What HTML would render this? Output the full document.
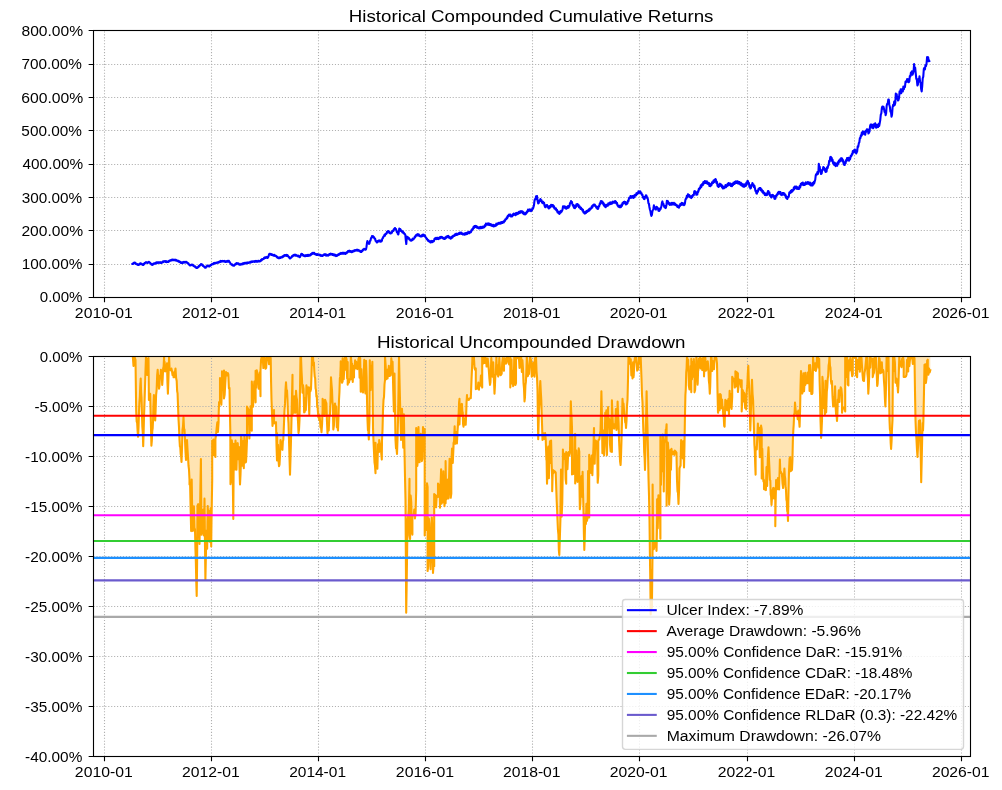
<!DOCTYPE html><html><head><meta charset="utf-8"><title>Drawdown</title><style>html,body{margin:0;padding:0;background:#fff;overflow:hidden}svg{display:block}text{font-family:"Liberation Sans",sans-serif;fill:#000;will-change:transform}</style></head><body><svg width="1002" height="790" viewBox="0 0 1002 790"><rect x="0" y="0" width="1002" height="790" fill="#fff"/><defs><clipPath id="c1"><rect x="92.95" y="30.35" width="877" height="266.65"/></clipPath><clipPath id="c2"><rect x="92.95" y="356.2" width="877" height="400"/></clipPath></defs><path d="M104.5 297.5V30.5M211.5 297.5V30.5M318.5 297.5V30.5M425.5 297.5V30.5M532.5 297.5V30.5M639.5 297.5V30.5M747.5 297.5V30.5M854.5 297.5V30.5M961.5 297.5V30.5M93.5 297.5H970.5M93.5 264.5H970.5M93.5 230.5H970.5M93.5 197.5H970.5M93.5 164.5H970.5M93.5 130.5H970.5M93.5 97.5H970.5M93.5 64.5H970.5M93.5 30.5H970.5" stroke="#b0b0b0" stroke-width="1.111" stroke-dasharray="1.111,1.833" fill="none"/><path d="M132.4,264 132.93,263.96 133.45,262.89 133.97,263.33 134.5,262.5 135,263.22 135.5,262.9 136,263.99 136.5,264 137,264.47 137.5,264.06 138,264.97 138.5,264.8 138.96,264.9 139.42,263.95 139.88,264.2 140.34,263.35 140.8,263.3 141.35,264.14 141.9,263.76 142.45,264.81 143,265 143.5,264.98 144,263.62 144.5,263.98 145,262.76 145.5,262.94 146,262.2 146.5,262.71 147,262.37 147.5,263 148,262.85 148.5,261.92 149,261.8 149.5,262.59 150,262.56 150.5,263.64 151,263.47 151.5,264.72 152,264.8 152.48,264.88 152.96,263.91 153.44,264.36 153.92,263.38 154.4,263.5 154.91,263.69 155.43,262.92 155.94,263.54 156.46,262.46 156.97,263.22 157.49,262.24 158,262.5 158.5,262.81 159,262.21 159.5,262.8 160,262.25 160.5,262.92 161,262.17 161.5,262.94 162,262.5 162.5,262.51 163,261.38 163.5,261.97 164,261.2 164.5,261.52 165,261.06 165.5,261.89 166,261.14 166.5,262.05 167,261.31 167.5,261.98 168,261.8 168.5,261.89 169,260.77 169.5,261.21 170,260.33 170.5,260.63 171,260 171.5,260.46 172,259.49 172.5,260.18 173,259.55 173.5,260.11 174,259.8 174.5,260.18 175,259.58 175.5,260.44 176,259.88 176.5,260.74 177,260.5 177.45,261.02 177.91,260.53 178.36,261.46 178.82,261.01 179.27,261.91 179.73,261.52 180.18,262.38 180.64,262.02 181.09,263.01 181.55,262.35 182,263 182.48,263.11 182.96,262.16 183.44,262.69 183.92,261.87 184.4,262 184.9,262.53 185.4,261.78 185.9,262.51 186.4,261.86 186.9,262.7 187.4,262.5 187.92,263.39 188.44,263.29 188.96,264.6 189.48,264.61 190,265.5 190.5,265.49 191,264.76 191.5,265.1 192,264.5 192.5,265.15 193,264.9 193.5,265.93 194,266 194.5,266.65 195,266.25 195.5,267.31 196,267 196.5,268.06 197,268 197.49,267.8 197.98,266.87 198.47,267.07 198.96,265.83 199.44,266.05 199.93,265.07 200.42,265.28 200.91,264.01 201.4,264 201.89,264.75 202.38,264.51 202.86,265.84 203.35,265.55 203.84,266.68 204.33,266.62 204.81,267.54 205.3,267.8 205.8,267.64 206.3,266.39 206.8,266.44 207.3,265.5 207.8,266.11 208.3,265.77 208.8,266.5 209.3,266.51 209.8,265.54 210.3,265.75 210.8,264.77 211.3,265.05 211.8,264.2 212.3,264.49 212.8,263.8 213.25,264.11 213.71,263.19 214.16,263.74 214.62,262.88 215.07,263.49 215.53,262.85 215.98,263.27 216.44,262.52 216.89,262.99 217.35,262.34 217.8,262.5 218.3,262.64 218.8,261.75 219.3,262.21 219.8,261.42 220.3,262.02 220.8,260.89 221.3,261.59 221.8,261 222.3,261.48 222.8,260.74 223.3,261.47 223.8,261 224.3,261.56 224.8,260.91 225.3,261.85 225.8,261.5 226.26,261.9 226.71,261.11 227.17,261.68 227.63,260.85 228.09,261.56 228.54,260.75 229,261 229.5,262.23 230,262.25 230.5,263.61 231,264 231.5,264.73 232,264.25 232.5,265.41 233,264.98 233.5,265.7 234,265.74 234.5,264.56 235,264.93 235.5,263.89 236,264.35 236.5,263.13 237,263.2 237.5,263.74 238,263.22 238.5,264.28 239,263.71 239.5,264.65 240,264.5 240.45,264.69 240.91,263.9 241.36,264.51 241.82,263.78 242.27,264.28 242.73,263.33 243.18,264.11 243.64,263.16 244.09,263.76 244.55,262.92 245,263.2 245.5,263.48 246,262.69 246.5,263.37 247,262.6 247.5,263.17 248,262.43 248.5,262.97 249,262.5 249.5,262.73 250,261.96 250.5,262.53 251,261.64 251.5,262.26 252,261.29 252.5,261.93 253,261.5 253.5,261.71 254,261.11 254.5,261.79 255,261.06 255.5,261.6 256,260.81 256.5,261.64 257,261.2 257.5,261.55 258,260.74 258.5,261.52 259,260.79 259.5,261.49 260,261.2 260.5,261.15 261,259.95 261.5,260.48 262,259.13 262.5,259.55 263,258.8 263.5,258.94 264,257.93 264.5,258.3 265,257.34 265.5,257.95 266,257.2 266.5,257.76 267,256.9 267.5,257.94 268,257.5 268.47,256.61 268.93,254.71 269.4,253.8 269.85,254.36 270.3,253.74 270.75,254.59 271.2,254 271.65,255 272.1,254.28 272.55,255.22 273,255 273.5,255.64 274,254.72 274.5,255.8 275,255.24 275.5,255.95 276,255.8 276.5,256.81 277,256.52 277.5,257.75 278,257.8 278.49,258.17 278.97,257.37 279.46,258.14 279.94,257.36 280.43,257.88 280.91,257.16 281.4,257.5 281.9,257.46 282.4,256.39 282.9,256.89 283.4,255.94 283.9,256.22 284.4,255.18 284.9,255.71 285.4,255 285.92,255.61 286.44,254.86 286.96,255.98 287.48,255.1 288,255.8 288.5,256.93 289,256.83 289.5,258.21 290,258.5 290.5,258.34 291,257.31 291.5,257.5 292,256.19 292.5,256.51 293,255.38 293.5,255.63 294,254.8 294.5,255.39 295,254.61 295.5,255.6 296,254.78 296.5,255.77 297,255.5 297.5,256.24 298,255.48 298.5,256.54 299,255.98 299.5,257.21 300,257 300.65,255.71 301.3,253.8 301.8,254.54 302.3,254.01 302.8,255.33 303.3,254.75 303.8,255.9 304.3,255.8 304.76,256.26 305.22,255.21 305.68,256.18 306.13,255.2 306.59,256 307.05,255.17 307.51,255.92 307.97,254.9 308.43,255.8 308.88,254.83 309.34,255.58 309.8,255.2 310.3,255.38 310.8,253.96 311.3,254.73 311.8,253.39 312.3,254 312.8,252.76 313.3,252.8 313.8,253.69 314.3,252.95 314.8,254.2 315.3,253.86 315.8,254.5 316.3,254.9 316.8,254.07 317.3,254.99 317.8,254.08 318.3,254.79 318.8,254.5 319.3,255.22 319.8,254.63 320.3,255.64 320.8,255.03 321.3,255.94 321.8,255.3 322.3,256 322.87,255.78 323.43,254.61 324,254.4 324.5,254.97 325,254.21 325.5,255.34 326,254.5 326.5,255.65 327,254.85 327.5,255.4 328,255.72 328.5,254.67 329,255.1 329.5,254.12 330,254.69 330.5,253.63 331,253.9 331.46,254.51 331.92,253.77 332.38,254.87 332.83,254.06 333.29,255.02 333.75,254.42 334.21,255.46 334.67,254.57 335.12,255.58 335.58,254.89 336.04,256.09 336.5,255.7 336.95,255.88 337.41,254.79 337.86,255.32 338.32,254.33 338.77,254.94 339.23,253.83 339.68,254.34 340.14,253.25 340.59,254 341.05,252.94 341.5,253.1 341.95,253.65 342.4,252.71 342.85,253.62 343.3,252.74 343.75,253.56 344.2,252.84 344.65,253.71 345.1,252.78 345.55,253.92 346,253.4 346.48,253.31 346.96,252.05 347.44,252.35 347.92,251.14 348.4,251.1 348.85,251.72 349.3,250.69 349.75,251.76 350.2,251.01 350.65,251.83 351.1,251.07 351.55,252.19 352,251.7 352.5,251.83 353,250.77 353.5,251.4 354,250.54 354.5,251.07 355,249.99 355.5,250.7 356,250.1 356.5,250.56 357,249.71 357.5,250.58 358,249.78 358.5,250.69 359,250.4 359.5,251.23 360,250.78 360.5,251.88 361,251.9 361.5,251.85 362,250.47 362.5,250.82 363,249.47 363.5,249.87 364,248.9 364.5,249.38 365,248.78 365.5,249.78 366,249.4 366.47,247.13 366.93,243.28 367.4,241 367.93,242.64 368.47,242.45 369,244 369.5,243.3 370,240.9 370.5,240.62 371,238.01 371.5,238.04 372,236 372.5,236.75 373,236 373.5,237.47 374,237 374.54,238.55 375.08,238.48 375.62,240.97 376.16,241 376.7,242.5 377.16,242.53 377.62,241.1 378.08,241.74 378.54,240.51 379,240.5 379.48,241.35 379.96,240.4 380.44,241.73 380.92,240.9 381.4,241.5 381.9,240.75 382.4,238.39 382.9,238.13 383.4,236.5 383.92,236.46 384.44,234.86 384.96,235.74 385.48,233.74 386,234 386.5,233.69 387,231.9 387.5,232.46 388,231 388.48,232.11 388.96,231.32 389.44,232.97 389.92,232.58 390.4,233.5 390.9,233.44 391.4,232.09 391.9,232.62 392.4,230.89 392.9,231 393.4,230.89 393.9,229.02 394.4,229.25 394.9,228 395.4,229.34 395.9,228.91 396.4,230.5 396.88,232.3 397.35,231.73 397.82,233.93 398.3,234.5 398.8,231.93 399.3,228.5 399.8,229.91 400.3,229.1 400.8,231.02 401.3,230.36 401.8,231.5 402.3,232.34 402.8,231.39 403.3,232.82 403.8,232.5 404.3,233.96 404.8,233.77 405.3,235 405.8,240.11 406.3,244 406.8,236.5 407.3,237.69 407.8,237.06 408.3,238.54 408.8,237.86 409.3,239.51 409.8,239.07 410.3,240.42 410.8,240.5 411.3,240.71 411.8,239.47 412.3,240.18 412.8,238.51 413.3,239.45 413.8,238.5 414.3,238.52 414.8,236.56 415.3,237.03 415.8,235.22 416.3,235.74 416.8,234.5 417.3,235.43 417.8,234.14 418.3,235.48 418.8,234.43 419.3,236 419.8,235.5 420.4,236.38 421,235.9 421.5,236.42 422,235.03 422.5,236.13 423,234.51 423.5,235.72 424,234.9 424.5,236.2 425,235.48 425.5,237.3 426,237.4 426.5,238.87 427,238.68 427.5,239.9 428,240.78 428.5,240.18 429,241.46 429.5,241.03 430,241.9 430.5,242.4 431,241.19 431.5,242.12 432,240.94 432.5,242.13 433,241 433.5,241.4 434,240.99 434.5,238.83 435,238.4 435.5,238.96 436,237.89 436.5,239.13 437,237.8 437.5,239.02 438,237.75 438.5,239.13 439,238.4 439.5,238.48 440,237.2 440.5,238.15 441,236.73 441.5,236.9 441.98,237.76 442.47,237.18 442.95,238.34 443.43,237.73 443.92,238.97 444.4,238.9 444.9,238.89 445.4,237.26 445.9,238.08 446.4,236.47 446.9,237.31 447.4,236.1 447.85,236.98 448.3,235.93 448.75,237.58 449.2,236.58 449.65,237.94 450.1,237.23 450.55,238.76 451,238.4 451.5,238.29 452,236.68 452.5,237.33 453,235.84 453.5,236.34 454,235.4 454.5,235.79 455,234.41 455.5,235.25 456,233.9 456.5,235.01 457,233.68 457.5,234.71 458,233.9 458.48,234.24 458.96,232.99 459.44,233.95 459.92,232.48 460.4,232.9 460.9,233.62 461.4,232.65 461.9,234.05 462.4,233.36 462.9,234.46 463.4,233.78 463.9,234.4 464.36,234.68 464.81,233.38 465.27,234.44 465.72,232.99 466.18,234.25 466.63,232.99 467.09,234.02 467.54,232.3 468,232.9 468.48,233.23 468.96,231.94 469.44,233.17 469.92,231.91 470.4,232.4 470.9,232.32 471.4,230.14 471.9,230.4 472.4,228.9 472.9,229.21 473.4,227.17 473.9,228.03 474.4,226.05 474.9,227.18 475.4,225.9 475.9,226.99 476.4,226.22 476.9,227.79 477.4,226.88 477.9,227.9 478.4,228.35 478.9,227.33 479.4,228.36 479.9,227.17 480.4,228.2 480.9,226.82 481.4,228.08 481.9,227.4 482.4,227.81 482.9,226.47 483.4,227.63 483.9,226.9 484.4,227.07 484.9,225.03 485.4,225.98 485.9,223.64 486.4,223.9 486.9,224.74 487.4,223.49 487.9,224.61 488.4,223.35 488.9,225.05 489.4,223.61 489.9,224.4 490.4,225.17 490.9,224.19 491.4,225.67 491.9,225.1 492.4,225.98 492.9,224.81 493.4,226.41 493.9,225.14 494.4,226.1 494.88,226.22 495.36,224.75 495.84,225.77 496.32,223.65 496.8,224.1 497.3,224.74 497.8,223.24 498.3,223.97 498.8,222.73 499.3,223.74 499.8,222.9 500.3,223.56 500.8,222.26 501.3,223.38 501.8,222.13 502.3,223.03 502.8,221.71 503.3,222.4 503.8,222.51 504.3,220.45 504.8,221.24 505.3,219.31 505.8,219.4 506.3,219.27 506.8,217.36 507.3,218.14 507.8,215.71 508.3,216.42 508.8,214.65 509.3,214.5 509.8,215.77 510.3,214.46 510.8,216.51 511.3,215.43 511.8,216.4 512.3,216.37 512.8,214.33 513.3,215.12 513.8,213.5 514.4,214.78 515,214.7 515.5,215.22 516,213.11 516.5,214.46 517,212.72 517.5,214.08 518,212.9 518.5,213.66 519,211.75 519.5,212.95 520,211.48 520.5,212.78 521,211.06 521.5,211.4 522,212.38 522.5,211.46 523,213.44 523.5,212.27 524,214.19 524.5,213.09 525,214.4 525.5,214.29 526,212.5 526.5,213.31 527,211.28 527.5,211.86 528,209.65 528.5,209.9 529,210.86 529.5,209.4 530,210.74 530.5,209.53 531,211.21 531.5,210.4 532,210.24 532.5,208.06 533,208.68 533.5,206.9 534,205.13 534.5,200.55 535,199 535.5,199.38 536,196.38 536.5,197.6 537,196 537.6,200.79 538.2,203.5 538.75,203.11 539.3,200.5 539.85,200.93 540.4,199 540.93,201.28 541.47,200.26 542,202.5 542.5,203.2 543,201.74 543.5,203.27 544,202.5 544.5,205.5 545,207 545.5,207.25 546,205.25 546.5,206.15 547,205 547.47,206.85 547.93,206.04 548.4,208 548.85,208.45 549.3,206.27 549.75,207.71 550.2,205.87 550.65,207.08 551.1,204.73 551.55,206.07 552,205 552.5,206.06 553,205.18 553.5,207.33 554,206.16 554.5,208.55 555,208 555.5,209.55 556,208.41 556.5,210.58 557,209.9 557.5,212.29 558,211.5 558.5,213.27 559,213.4 559.5,213.86 560,211.61 560.5,212.7 561,210.9 561.5,211.9 562,210.9 562.5,209.57 563,206.4 563.5,207.54 564,206.23 564.5,207.8 565,206.46 565.5,208.46 566,207.9 566.5,208.64 567,206.76 567.5,208.01 568,206.05 568.5,207.8 569,206.7 569.5,206.09 570,203 570.5,203.39 571,201 571.47,202.96 571.93,201.93 572.4,204 572.9,205.75 573.4,204.96 573.9,207.82 574.4,207.9 574.9,208.24 575.4,205.63 575.9,206.94 576.4,204.27 576.9,205.72 577.4,204 577.92,205.68 578.44,204.73 578.96,207.26 579.48,206.16 580,207.9 580.5,208.9 581,207.65 581.5,209.25 582,208.9 582.48,210.71 582.96,209.67 583.44,212.3 583.92,211.91 584.4,213.4 584.9,213.65 585.4,211.97 585.9,212.98 586.4,210.97 586.9,212.16 587.4,210.59 587.9,210.9 588.38,211.06 588.87,209.21 589.35,210.58 589.83,208.62 590.32,209.38 590.8,208.4 591.3,208.53 591.8,206.25 592.3,207.48 592.8,205.24 593.3,205.76 593.8,204.5 594.3,205.52 594.8,204.59 595.3,206.3 595.8,206 596.3,207.65 596.8,206.6 597.3,208.82 597.8,208.9 598.3,208.4 598.8,205.95 599.3,206.15 599.8,203.42 600.3,203.99 600.8,201.26 601.3,201 601.8,202.7 602.3,201.52 602.8,203.73 603.3,202.65 603.8,205.43 604.3,204.32 604.8,206.57 605.3,206.4 605.8,207.12 606.3,204.91 606.8,206.04 607.3,204.45 607.8,205.75 608.3,203.35 608.8,204 609.3,204.52 609.8,202.65 610.3,204.09 610.8,202.29 611.3,203.86 611.8,202.5 612.35,203.3 612.9,201.55 613.45,202.69 614,202 614.5,202.75 615,201.08 615.5,202.79 616,201.7 616.5,203.71 617,202.91 617.5,205.48 618,205.9 618.5,206.77 619,205.67 619.5,207.3 620,205.86 620.5,207.1 621,207.09 621.5,204.54 622,205.69 622.5,203.07 623,203.79 623.5,202.1 624,203 624.5,201.62 625,203.43 625.5,202.11 626,204.41 626.5,202.63 627,203.9 627.5,203.23 628,200.62 628.5,201.04 629,198.14 629.5,197.5 630,198.05 630.5,195.98 631,197.68 631.5,196.2 632,197.57 632.5,195.97 633,197.5 633.5,197.87 634,195.64 634.5,197.14 635,194.76 635.5,195.5 636,195.53 636.5,193.15 637,194.36 637.5,193 637.98,193.57 638.45,191.31 638.92,192.59 639.4,191.5 639.9,193.01 640.4,191.44 640.9,193.43 641.4,193 641.92,194.85 642.44,194.62 642.96,197.47 643.48,196.8 644,199 644.48,199.09 644.96,196.61 645.44,197.55 645.92,195.37 646.4,195.5 646.93,197.86 647.47,197.36 648,200 648.47,203.36 648.93,203.76 649.4,207 649.9,209.53 650.4,211 650.9,214.14 651.4,215.9 651.9,214.79 652.4,211.34 652.9,210 653.4,208.53 653.9,205.4 654.4,207.52 654.9,207.53 655.4,209.4 655.9,209.62 656.4,206.78 656.9,206.9 657.4,208.54 657.9,208.05 658.4,210.57 658.9,210.9 659.4,210.86 659.9,208.59 660.4,209.33 660.9,207.9 661.4,206.46 661.9,202.79 662.4,201.4 662.9,203.83 663.4,203.71 663.9,205.9 664.4,207.05 664.9,205.97 665.4,208.11 665.9,207.9 666.4,205.37 666.9,200.7 667.4,202.32 667.9,201.21 668.4,203.66 668.9,202.65 669.4,204.4 669.9,204.86 670.4,203.48 670.9,204.58 671.4,202.9 671.9,204.63 672.4,202.89 672.9,203.4 673.4,204.34 673.9,202.72 674.4,204.78 674.9,203.47 675.4,204.91 675.9,204.4 676.4,205.63 676.9,204.99 677.4,206.96 677.9,206.22 678.4,207.4 678.9,207.73 679.4,205.23 679.9,206.12 680.4,203.7 680.9,203.9 681.4,204.88 681.9,202.89 682.4,204.67 682.9,203.16 683.4,203.9 683.9,205.18 684.4,204.9 684.9,203.33 685.4,199.83 685.9,198.5 686.38,198.7 686.86,195.73 687.34,197.16 687.82,194.31 688.3,194.5 688.8,196.07 689.3,195.09 689.8,197.09 690.3,196.11 690.8,197.5 691.3,198.07 691.8,196.05 692.3,197.12 692.8,195 693.3,195.5 693.8,195.08 694.3,191.38 694.8,191 695.3,192.87 695.8,192.04 696.3,194.7 696.8,194.5 697.3,194.49 697.8,191.21 698.3,191.84 698.8,188.89 699.3,189.39 699.8,187.5 700.3,188.1 700.8,185.22 701.3,186.98 701.8,184.38 702.3,185 702.8,185.21 703.3,182.2 703.8,182 704.3,183.37 704.8,181.03 705.3,182.99 705.8,181.52 706.3,183.15 706.8,181.32 707.3,183.57 707.8,182.5 708.35,184.26 708.9,182.98 709.45,186.02 710,186 710.5,186.2 711,183.74 711.5,185.03 712,182.2 712.5,182.2 713,183.16 713.5,180.53 714,182.31 714.5,179.89 715,181.49 715.5,179.02 716,180 716.5,182.97 717,182.04 717.5,185.92 718,186.5 718.5,186.83 719,184.51 719.5,186.14 720,183.66 720.5,184.5 721,185.9 721.5,184.64 722,187.44 722.5,186.07 723,188.41 723.5,188 724,188.27 724.5,186.5 725,187.51 725.5,185.05 726,187.18 726.5,185.5 727,186.25 727.5,183.98 728,185.6 728.5,183.02 729,184.75 729.5,183.5 730,185.17 730.5,183.57 731,186.04 731.5,186 732,186.18 732.5,183.84 733,184.95 733.5,182.68 734,183 734.48,183.81 734.96,181.74 735.44,183.3 735.92,181.19 736.4,181.8 736.9,183.02 737.4,181.25 737.9,183.41 738.4,181.79 738.9,183.77 739.4,182.07 739.9,183 740.4,184.72 740.9,182.78 741.4,185.22 741.9,183.74 742.4,186.15 742.9,185.5 743.4,186.6 743.9,184.35 744.4,186.64 744.9,184.53 745.4,185.5 745.9,185.91 746.4,182.48 746.9,184.04 747.4,180.95 747.9,181 748.4,183.46 748.9,182.97 749.4,186.74 749.9,186.02 750.4,188.5 750.9,188.11 751.4,184.82 751.9,185.63 752.4,183 752.9,184.87 753.4,184.31 753.9,187.12 754.4,185.78 754.9,188 755.4,190.89 755.9,190.61 756.4,193.4 756.9,193.58 757.4,190.79 757.9,191.69 758.4,189.13 758.9,189.61 759.4,188 759.9,189.4 760.4,188.01 760.9,190.32 761.4,189.26 761.9,190.4 762.4,192.15 762.9,190.86 763.4,193.26 763.9,192.4 764.4,193.9 764.9,194.95 765.4,193.55 765.9,195.14 766.4,193.55 766.9,194.9 767.4,194.8 767.9,191.27 768.4,191 768.9,193.33 769.4,192.49 769.9,195.63 770.4,194.99 770.9,196.9 771.4,197.44 771.9,194.97 772.4,196.54 772.9,194.9 773.4,196.55 773.9,195.84 774.4,198.56 774.9,198.9 775.4,198.68 775.9,195.5 776.4,196.12 776.9,194.4 777.4,194.67 777.9,192.65 778.4,193.77 778.9,191.83 779.4,192 779.9,193.76 780.4,192.09 780.9,194.65 781.4,194.4 781.88,195.05 782.37,193.11 782.85,194.53 783.33,193.11 783.82,194.72 784.3,193.4 784.8,195.19 785.3,194.5 785.8,197.55 786.3,196.24 786.8,198.4 787.3,198.93 787.8,197.03 788.3,197.4 788.8,196.37 789.3,192.63 789.8,192 790.3,192.91 790.8,190.73 791.3,192.34 791.8,190.09 792.3,191.59 792.8,190.4 793.3,190.36 793.8,187.65 794.3,189.33 794.8,186.51 795.3,186.5 795.8,187.91 796.3,186.45 796.8,188.78 797.3,187.26 797.8,188.99 798.3,187.55 798.8,189 799.3,188.84 799.8,185.78 800.3,187.21 800.8,183.88 801.3,184.75 801.8,183 802.3,184.5 802.8,182.47 803.3,185.08 803.8,184.5 804.3,184.96 804.8,183.19 805.3,184.61 805.8,182.37 806.3,184.04 806.8,183 807.3,183.69 807.8,181.98 808.3,183.81 808.8,182.6 809.26,184.18 809.71,182.46 810.17,184.86 810.63,182.9 811.09,185.57 811.54,184.11 812,185.3 812.45,185.52 812.9,182.76 813.35,184.51 813.8,181.92 814.25,183.23 814.7,181.5 815.23,179.75 815.77,175.11 816.3,174 816.82,174.63 817.35,172.1 817.88,173.9 818.4,172.4 818.8,163.8 819.26,166.63 819.72,166.68 820.18,170.87 820.64,171.05 821.1,174 821.65,173.56 822.2,169.7 822.75,169.7 823.3,167 823.75,169.11 824.2,167.67 824.65,170.35 825.1,169.06 825.55,171.87 826,171.8 826.52,171.72 827.05,167.37 827.58,168.15 828.1,165.9 828.64,165.2 829.18,160.9 829.72,161.53 830.26,157.08 830.8,156.8 831.25,159.07 831.7,157.99 832.15,161.23 832.6,159.78 833.05,163.19 833.5,163.2 833.96,164.79 834.41,162.46 834.87,165.31 835.33,163.3 835.79,166.18 836.24,163.8 836.7,165.4 837.24,165.7 837.78,162.18 838.32,163.73 838.86,160.57 839.4,161.1 839.85,161.57 840.3,158.93 840.75,160.73 841.2,158.16 841.65,160.26 842.1,158.4 842.62,161.41 843.15,160.2 843.68,164.15 844.2,164.8 844.67,165.03 845.14,162.03 845.61,163.29 846.09,159.97 846.56,161.05 847.03,158.05 847.5,158.4 848.02,160.04 848.55,157.7 849.08,160.71 849.6,159.5 850.15,159.09 850.7,155.87 851.25,156.28 851.8,154.1 852.32,154.39 852.85,151.01 853.38,152.46 853.9,150.3 854.35,151.73 854.8,149.53 855.25,152.3 855.7,150.18 856.15,153.44 856.6,152.5 857.15,151.5 857.7,146.37 858.25,146.67 858.8,143.3 859.32,142.32 859.85,138.12 860.38,138.25 860.9,135.3 861.35,135.88 861.8,132.53 862.25,134.82 862.7,131.58 863.15,133.63 863.6,131.5 864.15,133.87 864.7,134.2 865.23,134.7 865.75,130.7 866.27,131.79 866.8,129.4 867.35,131.3 867.9,129.4 868.45,133.53 869,132.6 869.53,131.6 870.07,126.17 870.6,124.5 871.12,126.55 871.65,124.52 872.18,127.71 872.7,127.2 873.23,128.15 873.77,124.25 874.3,124.3 874.76,126.15 875.21,123.35 875.67,127.4 876.13,124.73 876.59,127.64 877.04,124.92 877.5,127 878.05,127.06 878.6,123.89 879.15,126.01 879.7,123.2 880.25,120.06 880.8,114.6 881.33,113.36 881.87,107.82 882.4,106.5 882.93,108.76 883.47,106.81 884,108.7 884.53,111.92 885.07,110.88 885.6,115.1 886.13,113.19 886.67,105.71 887.2,103.8 887.73,103.72 888.27,99.54 888.8,99.5 889.35,104.95 889.9,107 890.43,111.55 890.97,111.94 891.5,116.7 892.03,114.79 892.57,107.38 893.1,104.9 893.65,105.81 894.2,101.63 894.75,105.02 895.3,102.7 895.8,93.6 896.25,95.87 896.7,94.17 897.15,98.72 897.6,96.74 898.05,100.52 898.5,100.1 899.05,97.68 899.6,91.4 900.14,93.46 900.68,89.35 901.22,93.29 901.76,89.3 902.3,90.9 902.82,91.45 903.35,86.59 903.88,89.31 904.4,86.6 904.97,86.93 905.53,81.53 906.1,81.2 906.6,81.8 907.1,79.1 907.67,81.61 908.23,79.35 908.8,82.3 909.32,81.3 909.85,75.96 910.38,76.54 910.9,72.6 911.45,74.58 912,71.2 912.55,74.8 913.1,73.1 913.6,71.11 914.1,64 914.63,69.2 915.17,67.69 915.7,73.1 916.27,78.72 916.83,79.69 917.4,85.5 917.92,84.52 918.45,78.89 918.98,80.35 919.5,76.4 920.05,81.71 920.6,82.68 921.15,89.05 921.7,91.4 922.2,86.46 922.7,78.5 923.27,76.67 923.83,68.93 924.4,67.8 924.93,69.45 925.47,65.03 926,66.1 926.55,63.35 927.1,57 927.63,59.98 928.17,57.29 928.7,61.3 929.3,61" stroke="#0000ff" stroke-width="2.083" fill="none" stroke-linejoin="round" stroke-linecap="square" clip-path="url(#c1)"/><rect x="93.5" y="30.5" width="877.0" height="267.0" fill="none" stroke="#000" stroke-width="1.111"/><path d="M104.5 297.5v4.86M211.5 297.5v4.86M318.5 297.5v4.86M425.5 297.5v4.86M532.5 297.5v4.86M639.5 297.5v4.86M747.5 297.5v4.86M854.5 297.5v4.86M961.5 297.5v4.86M93.5 297.5h-4.86M93.5 264.5h-4.86M93.5 230.5h-4.86M93.5 197.5h-4.86M93.5 164.5h-4.86M93.5 130.5h-4.86M93.5 97.5h-4.86M93.5 64.5h-4.86M93.5 30.5h-4.86" stroke="#000" stroke-width="1.111" fill="none"/><path d="M132.8,356.2 133.5,366 133.5,356.41 134.17,360.36 134.83,357.85 135.5,359.8 136.2,411.5 136.67,421.51 137.15,422.9 137.62,431.28 138.1,436.8 138.53,427.36 138.97,412.66 139.4,402.6 139.83,397.03 140.27,385.89 140.7,378.6 141.1,392.48 141.5,397.58 141.9,412.8 142.33,426.67 142.77,432.59 143.2,446.3 143.63,432.45 144.07,414.62 144.5,402.6 145,387.81 145.5,370.39 146,356.2 146,357.32 146.62,359.5 147.25,374.91 147.88,359.25 148.5,358.19 148.9,400 149.33,399.74 149.77,393.45 150.2,393.8 150.6,411.82 151,427.69 151.4,445.7 151.83,441.02 152.27,431.02 152.7,428 153.1,419 153.5,404.4 153.9,395 154.33,406.02 154.77,409.85 155.2,420.4 155.65,409.25 156.1,395 156.63,389.85 157.17,375.19 157.7,369.7 158.13,377.39 158.57,379.86 159,388.7 159.47,386.29 159.95,375.64 160.43,377.5 160.9,369.7 161.33,376.27 161.77,375.9 162.2,384.9 162.67,378.64 163.15,368.59 163.62,366.52 164.1,356.2 164.1,370.95 164.6,361.76 165.2,371.42 165.8,369.63 166.4,369.5 167,363.38 167.45,382.39 167.9,393.8 168.5,377.16 169.1,356.2 169.1,357.22 169.6,369.1 170.2,369.52 170.8,370.34 171.4,368.53 172,371.32 172.53,375.06 173.07,372.67 173.6,377.3 174.07,377.33 174.55,371.64 175.03,372.21 175.5,368.5 176.1,377.83 176.7,381 177.13,390.96 177.57,393.42 178,405.2 178.5,419.04 179,427.32 179.5,440 179.9,446.31 180.3,447.33 180.7,454.18 181.1,455.59 181.5,462 182,448.43 182.5,430 183,426.47 183.5,417 184,428.62 184.5,429.44 185,440 185.5,451.83 186,460 186.5,451.31 187,440 187.5,449.29 188,457 188.5,465.7 189,469.53 189.5,480 189.5,484.46 190.05,482.22 190.6,507.59 191.15,531.09 191.7,479.51 192.25,514.98 192.8,530.94 193.35,529.02 193.9,506.35 194.45,527.82 195,529.38 195.43,548.64 195.85,561.83 196.27,581.83 196.7,596 197.1,562.88 197.5,505.58 198.17,504.16 198.83,509.07 199.5,544.02 199.97,518.28 200.43,485.18 200.9,459 201.5,534.81 202.1,525.43 202.7,533.32 203.3,509.48 203.9,535.43 204.5,498.64 204.95,541.48 205.4,579.7 206,551.22 206.58,530.55 207.16,548.69 207.73,506.06 208.31,541.24 208.89,510.75 209.47,511.13 210.04,541.99 210.62,508.39 211.2,546.47 211.5,521 212.2,480 212.2,440.85 212.84,448.9 213.48,439.54 214.12,455.19 214.76,444.52 215.4,456.91 215.4,438.99 216.04,434.98 216.68,427.96 217.32,422.36 217.96,431.89 218.6,422.34 218.6,416.19 219.07,402.13 219.53,402.38 220,402.53 220,377.95 220.67,394.43 221.33,404.83 222,387.9 222,371.34 222.67,374.44 223.33,382.23 224,370.62 224,398.43 224.67,394.49 225.33,382.29 226,372.16 226,372.75 226.58,374.95 227.17,375.46 227.75,372.94 228.33,374.48 228.92,388.34 229.5,387.84 229.9,412.34 230.3,430 230.5,484.17 231.17,479.09 231.83,440.35 232.5,449.53 232.9,487.82 233.3,519 233.8,443.74 234.37,449.36 234.93,469.38 235.5,440.51 236,449.45 236.5,469.71 237.12,443.93 237.75,443.2 238.38,459.26 239,446.94 239.5,468 240,484.5 240.5,474.72 241,460 241,435.97 241.56,438.7 242.12,465.75 242.69,464.29 243.25,441.01 243.81,468.19 244.38,436.46 244.94,440.98 245.5,462.4 246,462 246.5,453.05 247,440 247,406.64 247.6,407.84 248.2,408.94 248.8,409.98 249.4,438.55 250,422.82 250.6,406.25 251.2,409.88 251.8,430.76 251.8,381.64 252.43,394.98 253.07,406.59 253.7,390.28 254.33,381.64 254.97,386.06 255.6,402.35 255.6,370.83 256.21,387.67 256.82,370.38 257.44,373.59 258.05,376.88 258.66,388.77 259.27,377.62 259.89,372.2 260.5,396.23 260.5,370.67 261.07,359.79 261.63,357.36 262.2,358.45 262.77,357.74 263.33,368.08 263.9,362.22 264.47,356.5 265.03,365.37 265.6,368.71 266.17,367.87 266.73,357.63 267.3,358.61 267.87,359.32 268.43,357.46 269,364.28 269.57,356.87 270.13,358.26 270.7,357.8 271.1,382.88 271.5,400 272,413.63 272.5,426 273,421.23 273.5,413.06 274,410 274,423.25 274.67,423.34 275.33,423.66 276,422.2 276.5,445.25 277,460.5 277,433.16 277.5,457.2 278,444.8 278.5,459.92 279,466.2 279.5,464.6 280,455.73 280.5,440 281,443.68 281.5,443.58 282,449.4 282.43,449.85 282.87,441.13 283.3,440 283.9,425.69 284.5,410 285,403.63 285.5,389.77 286,382.4 286.5,390.54 287,390.24 287.5,400 288,415.93 288.5,423.74 289,440 289.5,458.01 290,474.7 290.5,458.5 291,440 291.5,419.71 292,396.02 292.5,374.8 292.5,414.47 293.08,405.87 293.67,412.65 294.25,396.21 294.83,408.48 295.42,412.8 296,390.87 296.5,396.8 297,400 297.5,414.22 298,421.18 298.5,433 299,429.86 299.5,420 300,389.1 300.5,356.2 301,356.2 301.5,370.65 302,380 302.5,392.63 303,385.15 303.57,388.88 304.14,412.37 304.71,412.06 305.29,397.8 305.86,410.15 306.43,385.28 307,393.34 307.57,390.46 308.14,387.29 308.71,401.25 309.29,414.33 309.86,387.61 310.43,391.1 311,389.3 311.5,374.85 312,356.2 312.5,356.54 313,356.2 313.43,364.9 313.87,362.42 314.3,371 314.73,376.57 315.15,378.16 315.57,388.36 316,390 316.4,396.72 316.8,395.79 317.2,407.14 317.6,406.92 318,412.8 318.4,417.39 318.8,414.37 319.2,419.89 319.6,416.45 320,420 320.5,427.53 321,427.36 321.5,432.2 322.05,424.79 322.6,410 322.6,398.87 323.23,404.82 323.87,400.43 324.5,415.98 325.13,399.7 325.77,401.65 326.4,403.35 326.95,421.2 327.5,433.2 327.5,431.66 328.12,428.92 328.75,430.55 329.38,414.96 330,415.31 330.5,400.08 331,377.3 331.5,384.21 332,390 332.43,401.37 332.87,405.16 333.3,429.51 333.89,425.87 334.48,411.72 335.06,403.43 335.65,416.44 336.24,406.42 336.82,427.15 337.41,427.12 338,430.41 338.5,417.09 339,400 339.43,392.23 339.85,378.53 340.27,376.41 340.7,364.7 340.7,361.4 341.33,374.54 341.97,382.75 342.6,381.46 342.6,358.41 343.17,361.68 343.73,379.19 344.3,367.64 344.87,356.77 345.43,369.72 346,357.57 346.57,359.36 347.13,378.46 347.7,361.95 347.7,384.63 348.33,380.01 348.97,382.57 349.6,378.97 350.23,379.58 350.87,356.55 351.5,362.54 351.5,379.19 352.12,363.76 352.75,381.93 353.38,366.01 354,377.47 354,370.83 354.56,368.87 355.11,360.39 355.67,368.02 356.22,361.86 356.78,367.65 357.33,369.11 357.89,367.8 358.44,359.14 359,357.47 359,356.66 359.58,377.73 360.17,358 360.75,391.61 361.34,369.13 361.92,391.47 362.51,388.56 363.09,392.57 363.68,375.76 364.26,359.69 364.85,382.2 365.43,393.46 366.02,360.71 366.6,377.55 367.05,401.76 367.5,420 367.93,430.13 368.37,430.84 368.8,439.5 369.5,420 369.8,360.18 370.44,390.15 371.08,366.4 371.72,371.13 372.36,361.74 373,428.39 373.5,440.99 374,452 374.5,462.32 375,465.7 375.5,473.3 375.5,442.67 376.12,465.94 376.75,466.41 377.38,468.63 378,444.41 378.5,449.05 379,452 379.2,440.1 379.85,443.77 380.5,444.17 381.15,452.17 381.8,459.54 382,440 382.5,430.52 383,410.58 383.5,400 384,396.93 384.5,384.5 385,380 385,356.7 385.64,365.41 386.28,379.11 386.92,370.06 387.56,378.53 388.2,369.14 388.2,375.93 388.82,365.91 389.44,376.08 390.06,374.19 390.68,375.33 391.3,359.37 391.3,358.25 391.94,364.23 392.58,361.7 393.22,389.12 393.86,411.41 394.5,373.5 395,408.95 395.5,440 396,448.35 396.5,448.64 397,454 397.5,439.58 398,420 398.5,391.83 399,356.2 399.5,378.79 400,400 400.5,420.58 401,440 401.5,437.51 402,408.74 402.62,428.73 403.25,447.76 403.88,414.41 404.5,451.82 405,477.08 405.5,500 406.2,612.7 406.6,589.13 407,560 407.6,519.49 408.23,516.5 408.87,510.31 409.5,478.74 409.5,535.32 410.08,539.03 410.66,495.52 411.24,502.06 411.82,529.85 412.4,534.6 412.4,515.32 413.03,515.01 413.67,515.13 414.3,509.46 414.93,518.48 415.57,513.52 416.2,490.17 416.2,427.96 416.77,432.2 417.33,465.89 417.9,460.23 418.47,427.13 419.03,446.85 419.6,462.25 420.17,448.2 420.73,433.71 421.3,450.02 421.87,461.1 422.43,458.86 423,427.01 423.57,436.91 424.13,451.06 424.7,429 424.7,535.54 425.28,524.86 425.86,491.42 426.44,529.88 427.02,483.35 427.6,486.89 427.6,571.03 428.2,566.09 428.8,518.45 429.4,523.74 430,550.22 430.6,569.16 431.2,543.78 431.8,517.57 432.4,528.55 433,572.94 433.6,564.27 434.2,566.13 434.2,493.93 434.83,495.84 435.47,495.14 436.1,507.32 436.73,496.09 437.37,496.41 438,496.86 438,483.57 438.67,495.03 439.33,484.9 440,507.81 440,503.3 440.56,484.22 441.12,469.22 441.68,503.6 442.24,478.38 442.8,502.2 443.36,471.23 443.92,487.52 444.48,506.26 445.04,484.83 445.6,503.27 445.6,461.15 446.17,499.22 446.74,495.52 447.31,498.39 447.88,479.65 448.45,498.35 449.02,479.99 449.59,458.77 450.16,463.91 450.73,497.73 451.3,493.71 451.3,464.69 452.03,448.46 452.77,463.07 453.5,446.89 453.5,443.05 454.07,441.36 454.64,426.35 455.21,443.71 455.79,440.31 456.36,432.06 456.93,443.53 457.5,431.46 457.9,425.88 458.3,417.72 458.7,412.86 459.1,402.01 459.5,398.8 459.5,424.46 460.1,404.67 460.7,415.94 461.3,404.44 461.9,403.86 462.3,411.41 462.7,412.14 463.1,424.26 463.5,426.7 463.5,425.23 464.23,418.23 464.97,424.8 465.7,424.65 466.13,415.57 466.57,401.89 467,395 467,396.71 467.63,399.75 468.27,398.76 468.9,399.92 469.53,398.48 470.17,398.23 470.8,398.24 471.5,380 472,369.12 472.5,356.2 472.9,363.8 473.3,357.53 473.93,357.46 474.55,368.07 475.18,370.04 475.8,368.39 475.8,389.21 476.44,387.68 477.08,388.55 477.72,388.17 478.36,382.47 479,389.63 479,388.14 479.64,384.78 480.28,385.57 480.92,375.48 481.56,382.93 482.2,387.51 482.2,356.77 482.75,357.68 483.3,363.53 483.85,357.45 484.4,363.07 484.95,357.29 485.5,357.49 486.05,359.8 486.6,366.56 487.15,359.03 487.7,358.58 488.25,364.29 488.8,369.97 489.4,378.49 490,384.9 490.43,382.44 490.87,371.24 491.3,358.06 491.93,368.25 492.57,376.73 493.2,362.4 493.63,374.48 494.07,382.7 494.5,393.8 494.93,385.92 495.37,374.7 495.8,374.99 496.39,357.21 496.97,373.79 497.56,365.07 498.14,376.54 498.73,371.95 499.31,358.12 499.9,368.43 500.49,375.18 501.07,374.8 501.66,373.82 502.24,362.6 502.83,358.04 503.41,360.01 504,370.83 504,364.65 504.57,358.25 505.15,362.26 505.72,363.68 506.29,363.53 506.86,356.37 507.44,357.73 508.01,356.67 508.58,362.29 509.15,364.38 509.73,363.15 510.3,357.45 510.3,387.47 510.87,373.26 511.44,359.52 512.01,383.54 512.58,370.45 513.15,386.09 513.72,383.91 514.29,356.48 514.86,379.39 515.43,384.89 516,383.2 516,356.41 516.58,357.91 517.17,358.4 517.75,357.61 518.33,357.47 518.92,357.85 519.5,367.88 520.08,356.47 520.67,359.1 521.25,357.77 521.83,371.94 522.42,360.19 523,368.98 523.5,382.9 524,388.47 524.5,401.4 524.96,397.57 525.42,385.46 525.88,381.9 526.34,372.81 526.8,356.67 527.35,365.48 527.9,376.15 528.45,373.22 529,373.92 529.55,363.11 530.1,356.64 530.65,358.87 531.2,360.54 531.75,376.82 532.3,374.56 532.85,363.36 533.4,375.15 533.95,362.29 534.5,376.6 535.05,358.13 535.6,372.13 536,356.2 536.5,370.73 537,376.86 537.5,390 538.2,439.3 539,410 539.43,402.88 539.87,388.19 540.3,381 540.8,391.6 541.3,400 541.7,413.95 542.1,425.78 542.5,440 543.2,432.94 543.84,437.38 544.48,439.04 545.12,432.99 545.76,440.32 546.4,460.02 546.4,448.13 547.02,483.82 547.65,466.32 548.27,446.55 548.9,451.09 548.9,478.17 549.45,452.45 550,441.35 550.55,462.85 551.1,440.49 551.65,463.3 552.2,479.11 552.2,491.24 552.79,469.81 553.37,473.36 553.96,470.77 554.54,471.16 555.13,471.87 555.71,472.42 556.3,489.87 556.7,501.01 557.1,509.45 557.5,520 557.95,529.96 558.4,534.33 558.85,550.17 559.3,555 559.85,538.02 560.4,520 560.4,516.49 561.02,469.55 561.65,516.62 562.27,502.6 562.9,459.79 562.9,449.57 563.45,458.96 564,453.49 564.55,457.79 565.1,453.8 565.65,479.18 566.2,483.64 566.2,451.96 566.83,453.18 567.47,469.26 568.1,454.91 568.73,452.09 569.37,455.64 570,452.6 570.8,401.4 571.2,411.99 571.6,417.49 572,428 572,474.49 572.64,468.01 573.28,474 573.92,467.94 574.56,434.72 575.2,433.94 575.2,483.53 575.79,463.93 576.37,450.45 576.96,478.86 577.54,481.84 578.13,475.96 578.71,448.41 579.3,451.6 579.3,472.74 579.85,509.28 580.4,503.55 580.95,483.03 581.5,476.01 582.05,496.7 582.6,471.88 583.02,493.31 583.45,507.67 583.88,533.4 584.3,550 584.7,539.63 585.1,522.04 585.5,514.25 585.9,523.9 586.45,503.77 587,520.74 587.55,517.6 588.1,471.13 588.65,483.34 589.2,517.52 589.2,454.9 589.83,461.79 590.47,459.2 591.1,473 591.73,455.58 592.37,475.16 593,457.18 593.5,446.22 594,428 594.1,437.03 594.7,463.76 595.3,440.53 595.9,440.7 596.5,441.61 597.1,444.14 597.7,482.81 598.3,475.15 598.3,441.05 598.85,439.44 599.4,439.5 599.95,434.15 600.5,430.71 600.95,414.01 601.4,391.2 601.9,413.92 602.4,453.3 602.97,449.7 603.54,430.55 604.11,455.34 604.68,446.17 605.25,412.79 605.82,436.41 606.39,410.38 606.96,455.13 607.53,424.98 608.1,407.13 608.1,415.44 608.73,418.43 609.37,420.07 610,444.29 610.63,451.4 611.27,417.23 611.9,451.89 611.9,400.41 612.47,415.32 613.04,427.85 613.61,424.13 614.18,428.6 614.75,425.5 615.32,426.61 615.89,409.04 616.46,429.87 617.03,426.13 617.6,401.53 618.08,414.45 618.55,423.29 619.02,439.52 619.5,450 620.05,461.3 620.6,465 621.05,454.86 621.5,440 622,421.11 622.5,398.8 623,405.07 623.5,403.47 624,410 624.4,414.83 624.8,416.45 625.2,422.33 625.6,421.77 626,428 626.5,421.19 627,405.84 627.5,400 628,379.25 628.5,356.2 629.05,363.88 629.6,358.09 630.18,361.33 630.76,359.27 631.35,375.34 631.93,365.07 632.51,378.34 633.09,362.24 633.67,376.91 634.25,363.91 634.84,357.99 635.42,359.81 636,360.06 636,356.75 636.59,363.24 637.17,370.63 637.76,367.93 638.35,369.45 638.94,356.22 639.53,362.87 640.11,357.31 640.7,357.47 641.5,378.6 642,395.29 642.5,402.44 643,420 643.4,431.66 643.8,436.06 644.2,452.29 644.6,457.8 645,470 645.4,453.94 645.8,429.98 646.2,413.91 646.6,391.2 647.07,414.16 647.53,430.05 648,452 648.5,478.18 649,495.55 649.5,520 649.9,553.66 650.3,580.66 650.7,614.5 651.3,570 651.9,608 652.6,545 652.6,490 652.6,526.96 652.62,484.45 653.18,543.19 653.74,549.2 654.3,546.81 654.86,541.88 655.42,542.13 655.98,544.26 656.54,550.84 657.1,520.17 657.1,499.3 657.76,528.34 658.42,495.19 659.08,503.65 659.74,497.81 660.4,538.72 660.4,436.44 660.96,485.04 661.52,442.31 662.09,471.26 662.65,434.43 663.21,440.12 663.77,491.46 664.34,443.35 664.9,440.18 665.33,439.44 665.75,429.72 666.17,429.6 666.6,424.2 666.6,505.68 667.23,481.34 667.87,442.6 668.5,451.57 669.13,504.61 669.77,493.22 670.4,453.92 670.4,450.15 670.95,469.72 671.5,448.86 672.05,454.51 672.6,454.14 673.15,451.77 673.7,453.84 674.25,454.82 674.8,450.47 675.35,451.3 675.9,451.82 676.45,452.59 677,479.99 677.5,491.2 678,493 678.5,504 679,491.16 679.5,468.28 680,466.89 680.57,465.5 681.14,440.02 681.71,446.69 682.29,441.44 682.86,458.36 683.43,441.25 684,467.56 684.47,446 684.93,417.58 685.4,395 685.8,389.12 686.2,372.55 686.6,368.04 687,356.2 687.4,363.55 687.8,364.85 688.2,359.43 688.82,385.61 689.44,389.35 690.06,385.32 690.68,366.12 691.3,392.14 691.3,358.74 691.94,379.57 692.58,362.24 693.22,376.62 693.86,359.05 694.5,379.53 694.5,392.34 695.13,390.04 695.77,373.1 696.4,357.05 697.03,365.22 697.67,384.64 698.3,363.66 698.3,370.35 698.87,358.68 699.44,358.93 700.01,357.69 700.58,368.39 701.15,368.5 701.72,358.55 702.29,370.17 702.86,368.37 703.43,356.91 704,365.33 704,376.34 704.63,362.63 705.27,357.32 705.9,366.3 705.9,370.78 706.52,362.32 707.15,369.51 707.77,361.28 708.4,369.49 708.87,380.85 709.33,384.65 709.8,393.8 710.2,386.32 710.6,371.96 711,356.8 711.6,357.8 712.2,370.99 712.8,361.03 713.4,368.34 714,369.2 714.6,357.78 715.2,357.9 715.8,358.07 716.4,358.12 717,363.71 717.5,391.8 718,412.8 718.5,409.5 719,394.61 719.6,410.28 720.2,394 720.8,394.85 721.4,408.2 722,399.64 722.43,405.95 722.87,407.34 723.3,416.19 723.73,416.58 724.17,425.99 724.6,426.7 725.3,399.7 725.92,401.8 726.53,400.96 727.15,410.31 727.77,403.07 728.38,398.95 729,415.42 729,411.4 729.64,390.85 730.28,407.17 730.92,394 731.56,408.9 732.2,397.04 732.2,376.7 732.84,378.15 733.48,378.89 734.12,379.12 734.76,387.57 735.4,376.38 735.4,371.18 736.02,386.39 736.65,371.99 737.27,382.59 737.9,373.25 737.9,392.03 738.53,386.07 739.17,379.51 739.8,381.42 740.43,380.22 741.07,387.12 741.7,380.37 741.7,411.48 742.27,400 742.83,390.18 743.4,401.47 743.97,392.59 744.53,393.72 745.1,407.86 745.67,398.93 746.23,409.57 746.8,390.33 747.3,385.92 747.8,373.2 748.3,365.9 748.7,378.78 749.1,385 749.5,400 750.3,430.5 750.72,418.53 751.15,402.11 751.58,394 752,379.8 752.55,393.83 753.1,400 753.55,415.56 754,430 754.4,444.47 754.8,450.61 755.2,464.44 755.6,474.6 755.6,447.68 756.17,449.36 756.75,449.55 757.33,435.92 757.9,423.57 757.9,424.44 758.53,430.35 759.17,427.94 759.8,457.31 760.43,430.4 761.07,425.64 761.7,429.25 761.7,478.44 762.28,448.86 762.85,471.98 763.42,481.38 764,480.03 764,489.14 764.63,489.48 765.27,488.72 765.9,490.16 766.53,466.98 767.17,485.97 767.8,458.82 768.5,447.3 769,459.57 769.5,470 769.9,480 770.3,480.64 770.7,494.53 771.1,496.38 771.5,505 772,498.13 772.66,490.13 773.32,487.9 773.98,498.4 774.64,491.25 775.3,488.04 775.3,526.2 775.55,507.45 776.1,479.96 776.7,481.1 777.3,489.11 777.9,478.15 778.5,479.7 779.1,489.42 779.9,459.5 780.3,472.03 780.7,471.4 781.3,472.8 781.9,473.58 782.5,483.48 783.1,488 783.7,479.87 784.4,468.6 784.8,475.87 785.2,478.32 785.6,487.22 786,490 786.4,499.71 786.8,501.38 787.2,511.1 787.6,511.69 788,521 788.5,493.58 789,471.36 789.6,458.19 790.2,457.11 790.8,471.1 791.4,470.49 792,469.74 792.43,460.01 792.87,440.11 793.3,430.5 793.72,424.21 794.15,414.24 794.58,413.43 795,402.6 795.8,412.07 796.43,414.1 797.07,411.91 797.7,419.28 798.33,410.53 798.97,419.54 799.6,426.8 800.07,410.92 800.53,386.27 801,371 801.4,378.93 801.8,376.07 802.2,393.59 802.82,391.35 803.44,373.27 804.06,391.25 804.68,380.41 805.3,372.77 805.3,384.97 805.92,377.93 806.53,383.34 807.15,378.19 807.77,372.45 808.38,383.33 809,382.9 809,365.25 809.57,391.07 810.14,365.09 810.71,371.82 811.29,394.05 811.86,394.05 812.43,393.2 813,365.9 813,356.45 813.56,363.16 814.13,369.43 814.69,369.89 815.25,363.39 815.82,370.94 816.38,368.26 816.95,356.28 817.51,358.45 818.07,357.47 818.64,367.58 819.2,358.82 819.63,381.52 820.07,396.19 820.5,420 821.1,438 821.55,430.74 822,420 822.4,376.88 823.03,383.7 823.66,407.91 824.29,390.05 824.91,414.23 825.54,380.73 826.17,412.34 826.8,391.53 827.25,387.59 827.7,378.89 828.15,375.8 828.6,365.55 829.05,363 829.5,356.2 829.98,365.85 830.46,367.74 830.94,380.5 831.42,383.77 831.9,381.03 832.53,396.68 833.17,406.56 833.8,403.45 834.43,406.09 835.07,386.31 835.7,408.23 836.13,414.32 836.57,415.19 837,421 837.4,414.31 837.8,399.56 838.2,402.13 838.83,390.34 839.47,402.04 840.1,392.75 840.73,387.31 841.37,388.98 842,395.39 842,412.8 842.64,408.03 843.28,407.42 843.92,407.78 844.56,408.77 845.2,411.46 845.2,357.21 845.84,363.22 846.48,376.89 847.12,356.34 847.76,384.52 848.4,385.38 848.4,376.77 849.03,360.41 849.66,370.36 850.29,358 850.91,361.07 851.54,370.27 852.17,376.2 852.8,374.64 852.8,356.96 853.44,357.57 854.08,357.26 854.72,357.66 855.36,357.15 856,357.78 856,375.51 856.55,359.88 857.1,377.12 857.65,359.96 858.2,359.61 858.75,369.03 859.3,357.6 859.85,371.65 860.4,357.28 860.95,358.64 861.5,357.79 862.05,367.15 862.6,375.26 863.07,380.5 863.53,378.37 864,381 864.55,372.84 865.1,369.78 865.73,363.43 866.37,356.45 867,357.76 867.43,373.28 867.87,377.97 868.3,393.8 868.73,386.35 869.17,376.3 869.6,357.72 870.22,367.68 870.84,358.03 871.46,360.3 872.08,358.8 872.7,358.86 872.7,377.15 873.34,374.07 873.98,372.71 874.62,356.87 875.26,367.08 875.9,357.5 876.33,368.95 876.77,374.61 877.2,386 877.65,383.7 878.1,374.85 878.55,373.68 879,357.96 879.56,358.51 880.12,364.64 880.69,373.21 881.25,371.44 881.81,362.19 882.38,372.33 882.94,369.68 883.5,371.25 883.98,381.21 884.45,387.33 884.92,398.94 885.4,406.4 885.8,394.86 886.2,379.24 886.6,356.51 887.23,360.08 887.87,371.06 888.5,357.08 889,390.98 889.5,420 889.9,429.38 890.3,431.22 890.7,443.09 891.1,449 891.57,441.12 892.03,428.41 892.5,420 893,356.8 893.63,370.87 894.27,356.96 894.9,362.73 895.53,382.72 896.17,378.29 896.8,379.66 897.2,386.31 897.6,386.31 898,392.5 898.43,384.52 898.87,371.03 899.3,357.07 899.85,364.2 900.4,365.61 900.95,361.59 901.5,367.17 902.05,359.02 902.6,357.92 903.15,357.42 903.7,361.68 903.7,376.93 904.26,376.5 904.83,376.96 905.39,376.7 905.95,376.29 906.51,374.65 907.08,359.9 907.64,364.44 908.2,371.4 908.2,357.33 908.77,365.17 909.35,366.2 909.92,360.22 910.49,356.48 911.06,357.76 911.64,358.18 912.21,357.5 912.78,363.95 913.35,359.16 913.93,357.47 914.5,358 915,391.49 915.5,420 916,433.01 916.5,440 917,449.89 917.5,457 918,447.02 918.5,433 918.5,432.12 919,420.88 919.5,431.39 920,420.4 920.4,444.94 920.8,458.78 921.2,482.3 921.75,458.28 922.3,433 922.3,432.9 922.67,422.99 923.03,430.53 923.4,420.35 923.95,394.01 924.5,364.7 924.97,367.25 925.43,364.35 925.9,382.92 926.53,377.8 927.17,360.55 927.8,359.71 927.8,369.04 928.42,374.69 929.05,368.66 929.67,372.45 930.3,370.26 L930.3,356.2 L132.8,356.2 Z" fill="#ffa500" fill-opacity="0.3" stroke="none" clip-path="url(#c2)"/><path d="M104.5 756.5V356.5M211.5 756.5V356.5M318.5 756.5V356.5M425.5 756.5V356.5M532.5 756.5V356.5M639.5 756.5V356.5M747.5 756.5V356.5M854.5 756.5V356.5M961.5 756.5V356.5M93.5 356.5H970.5M93.5 406.5H970.5M93.5 456.5H970.5M93.5 506.5H970.5M93.5 556.5H970.5M93.5 606.5H970.5M93.5 656.5H970.5M93.5 706.5H970.5M93.5 756.5H970.5" stroke="#b0b0b0" stroke-width="1.111" stroke-dasharray="1.111,1.833" fill="none"/><path d="M132.8,356.2 133.5,366 133.5,356.41 134.17,360.36 134.83,357.85 135.5,359.8 136.2,411.5 136.67,421.51 137.15,422.9 137.62,431.28 138.1,436.8 138.53,427.36 138.97,412.66 139.4,402.6 139.83,397.03 140.27,385.89 140.7,378.6 141.1,392.48 141.5,397.58 141.9,412.8 142.33,426.67 142.77,432.59 143.2,446.3 143.63,432.45 144.07,414.62 144.5,402.6 145,387.81 145.5,370.39 146,356.2 146,357.32 146.62,359.5 147.25,374.91 147.88,359.25 148.5,358.19 148.9,400 149.33,399.74 149.77,393.45 150.2,393.8 150.6,411.82 151,427.69 151.4,445.7 151.83,441.02 152.27,431.02 152.7,428 153.1,419 153.5,404.4 153.9,395 154.33,406.02 154.77,409.85 155.2,420.4 155.65,409.25 156.1,395 156.63,389.85 157.17,375.19 157.7,369.7 158.13,377.39 158.57,379.86 159,388.7 159.47,386.29 159.95,375.64 160.43,377.5 160.9,369.7 161.33,376.27 161.77,375.9 162.2,384.9 162.67,378.64 163.15,368.59 163.62,366.52 164.1,356.2 164.1,370.95 164.6,361.76 165.2,371.42 165.8,369.63 166.4,369.5 167,363.38 167.45,382.39 167.9,393.8 168.5,377.16 169.1,356.2 169.1,357.22 169.6,369.1 170.2,369.52 170.8,370.34 171.4,368.53 172,371.32 172.53,375.06 173.07,372.67 173.6,377.3 174.07,377.33 174.55,371.64 175.03,372.21 175.5,368.5 176.1,377.83 176.7,381 177.13,390.96 177.57,393.42 178,405.2 178.5,419.04 179,427.32 179.5,440 179.9,446.31 180.3,447.33 180.7,454.18 181.1,455.59 181.5,462 182,448.43 182.5,430 183,426.47 183.5,417 184,428.62 184.5,429.44 185,440 185.5,451.83 186,460 186.5,451.31 187,440 187.5,449.29 188,457 188.5,465.7 189,469.53 189.5,480 189.5,484.46 190.05,482.22 190.6,507.59 191.15,531.09 191.7,479.51 192.25,514.98 192.8,530.94 193.35,529.02 193.9,506.35 194.45,527.82 195,529.38 195.43,548.64 195.85,561.83 196.27,581.83 196.7,596 197.1,562.88 197.5,505.58 198.17,504.16 198.83,509.07 199.5,544.02 199.97,518.28 200.43,485.18 200.9,459 201.5,534.81 202.1,525.43 202.7,533.32 203.3,509.48 203.9,535.43 204.5,498.64 204.95,541.48 205.4,579.7 206,551.22 206.58,530.55 207.16,548.69 207.73,506.06 208.31,541.24 208.89,510.75 209.47,511.13 210.04,541.99 210.62,508.39 211.2,546.47 211.5,521 212.2,480 212.2,440.85 212.84,448.9 213.48,439.54 214.12,455.19 214.76,444.52 215.4,456.91 215.4,438.99 216.04,434.98 216.68,427.96 217.32,422.36 217.96,431.89 218.6,422.34 218.6,416.19 219.07,402.13 219.53,402.38 220,402.53 220,377.95 220.67,394.43 221.33,404.83 222,387.9 222,371.34 222.67,374.44 223.33,382.23 224,370.62 224,398.43 224.67,394.49 225.33,382.29 226,372.16 226,372.75 226.58,374.95 227.17,375.46 227.75,372.94 228.33,374.48 228.92,388.34 229.5,387.84 229.9,412.34 230.3,430 230.5,484.17 231.17,479.09 231.83,440.35 232.5,449.53 232.9,487.82 233.3,519 233.8,443.74 234.37,449.36 234.93,469.38 235.5,440.51 236,449.45 236.5,469.71 237.12,443.93 237.75,443.2 238.38,459.26 239,446.94 239.5,468 240,484.5 240.5,474.72 241,460 241,435.97 241.56,438.7 242.12,465.75 242.69,464.29 243.25,441.01 243.81,468.19 244.38,436.46 244.94,440.98 245.5,462.4 246,462 246.5,453.05 247,440 247,406.64 247.6,407.84 248.2,408.94 248.8,409.98 249.4,438.55 250,422.82 250.6,406.25 251.2,409.88 251.8,430.76 251.8,381.64 252.43,394.98 253.07,406.59 253.7,390.28 254.33,381.64 254.97,386.06 255.6,402.35 255.6,370.83 256.21,387.67 256.82,370.38 257.44,373.59 258.05,376.88 258.66,388.77 259.27,377.62 259.89,372.2 260.5,396.23 260.5,370.67 261.07,359.79 261.63,357.36 262.2,358.45 262.77,357.74 263.33,368.08 263.9,362.22 264.47,356.5 265.03,365.37 265.6,368.71 266.17,367.87 266.73,357.63 267.3,358.61 267.87,359.32 268.43,357.46 269,364.28 269.57,356.87 270.13,358.26 270.7,357.8 271.1,382.88 271.5,400 272,413.63 272.5,426 273,421.23 273.5,413.06 274,410 274,423.25 274.67,423.34 275.33,423.66 276,422.2 276.5,445.25 277,460.5 277,433.16 277.5,457.2 278,444.8 278.5,459.92 279,466.2 279.5,464.6 280,455.73 280.5,440 281,443.68 281.5,443.58 282,449.4 282.43,449.85 282.87,441.13 283.3,440 283.9,425.69 284.5,410 285,403.63 285.5,389.77 286,382.4 286.5,390.54 287,390.24 287.5,400 288,415.93 288.5,423.74 289,440 289.5,458.01 290,474.7 290.5,458.5 291,440 291.5,419.71 292,396.02 292.5,374.8 292.5,414.47 293.08,405.87 293.67,412.65 294.25,396.21 294.83,408.48 295.42,412.8 296,390.87 296.5,396.8 297,400 297.5,414.22 298,421.18 298.5,433 299,429.86 299.5,420 300,389.1 300.5,356.2 301,356.2 301.5,370.65 302,380 302.5,392.63 303,385.15 303.57,388.88 304.14,412.37 304.71,412.06 305.29,397.8 305.86,410.15 306.43,385.28 307,393.34 307.57,390.46 308.14,387.29 308.71,401.25 309.29,414.33 309.86,387.61 310.43,391.1 311,389.3 311.5,374.85 312,356.2 312.5,356.54 313,356.2 313.43,364.9 313.87,362.42 314.3,371 314.73,376.57 315.15,378.16 315.57,388.36 316,390 316.4,396.72 316.8,395.79 317.2,407.14 317.6,406.92 318,412.8 318.4,417.39 318.8,414.37 319.2,419.89 319.6,416.45 320,420 320.5,427.53 321,427.36 321.5,432.2 322.05,424.79 322.6,410 322.6,398.87 323.23,404.82 323.87,400.43 324.5,415.98 325.13,399.7 325.77,401.65 326.4,403.35 326.95,421.2 327.5,433.2 327.5,431.66 328.12,428.92 328.75,430.55 329.38,414.96 330,415.31 330.5,400.08 331,377.3 331.5,384.21 332,390 332.43,401.37 332.87,405.16 333.3,429.51 333.89,425.87 334.48,411.72 335.06,403.43 335.65,416.44 336.24,406.42 336.82,427.15 337.41,427.12 338,430.41 338.5,417.09 339,400 339.43,392.23 339.85,378.53 340.27,376.41 340.7,364.7 340.7,361.4 341.33,374.54 341.97,382.75 342.6,381.46 342.6,358.41 343.17,361.68 343.73,379.19 344.3,367.64 344.87,356.77 345.43,369.72 346,357.57 346.57,359.36 347.13,378.46 347.7,361.95 347.7,384.63 348.33,380.01 348.97,382.57 349.6,378.97 350.23,379.58 350.87,356.55 351.5,362.54 351.5,379.19 352.12,363.76 352.75,381.93 353.38,366.01 354,377.47 354,370.83 354.56,368.87 355.11,360.39 355.67,368.02 356.22,361.86 356.78,367.65 357.33,369.11 357.89,367.8 358.44,359.14 359,357.47 359,356.66 359.58,377.73 360.17,358 360.75,391.61 361.34,369.13 361.92,391.47 362.51,388.56 363.09,392.57 363.68,375.76 364.26,359.69 364.85,382.2 365.43,393.46 366.02,360.71 366.6,377.55 367.05,401.76 367.5,420 367.93,430.13 368.37,430.84 368.8,439.5 369.5,420 369.8,360.18 370.44,390.15 371.08,366.4 371.72,371.13 372.36,361.74 373,428.39 373.5,440.99 374,452 374.5,462.32 375,465.7 375.5,473.3 375.5,442.67 376.12,465.94 376.75,466.41 377.38,468.63 378,444.41 378.5,449.05 379,452 379.2,440.1 379.85,443.77 380.5,444.17 381.15,452.17 381.8,459.54 382,440 382.5,430.52 383,410.58 383.5,400 384,396.93 384.5,384.5 385,380 385,356.7 385.64,365.41 386.28,379.11 386.92,370.06 387.56,378.53 388.2,369.14 388.2,375.93 388.82,365.91 389.44,376.08 390.06,374.19 390.68,375.33 391.3,359.37 391.3,358.25 391.94,364.23 392.58,361.7 393.22,389.12 393.86,411.41 394.5,373.5 395,408.95 395.5,440 396,448.35 396.5,448.64 397,454 397.5,439.58 398,420 398.5,391.83 399,356.2 399.5,378.79 400,400 400.5,420.58 401,440 401.5,437.51 402,408.74 402.62,428.73 403.25,447.76 403.88,414.41 404.5,451.82 405,477.08 405.5,500 406.2,612.7 406.6,589.13 407,560 407.6,519.49 408.23,516.5 408.87,510.31 409.5,478.74 409.5,535.32 410.08,539.03 410.66,495.52 411.24,502.06 411.82,529.85 412.4,534.6 412.4,515.32 413.03,515.01 413.67,515.13 414.3,509.46 414.93,518.48 415.57,513.52 416.2,490.17 416.2,427.96 416.77,432.2 417.33,465.89 417.9,460.23 418.47,427.13 419.03,446.85 419.6,462.25 420.17,448.2 420.73,433.71 421.3,450.02 421.87,461.1 422.43,458.86 423,427.01 423.57,436.91 424.13,451.06 424.7,429 424.7,535.54 425.28,524.86 425.86,491.42 426.44,529.88 427.02,483.35 427.6,486.89 427.6,571.03 428.2,566.09 428.8,518.45 429.4,523.74 430,550.22 430.6,569.16 431.2,543.78 431.8,517.57 432.4,528.55 433,572.94 433.6,564.27 434.2,566.13 434.2,493.93 434.83,495.84 435.47,495.14 436.1,507.32 436.73,496.09 437.37,496.41 438,496.86 438,483.57 438.67,495.03 439.33,484.9 440,507.81 440,503.3 440.56,484.22 441.12,469.22 441.68,503.6 442.24,478.38 442.8,502.2 443.36,471.23 443.92,487.52 444.48,506.26 445.04,484.83 445.6,503.27 445.6,461.15 446.17,499.22 446.74,495.52 447.31,498.39 447.88,479.65 448.45,498.35 449.02,479.99 449.59,458.77 450.16,463.91 450.73,497.73 451.3,493.71 451.3,464.69 452.03,448.46 452.77,463.07 453.5,446.89 453.5,443.05 454.07,441.36 454.64,426.35 455.21,443.71 455.79,440.31 456.36,432.06 456.93,443.53 457.5,431.46 457.9,425.88 458.3,417.72 458.7,412.86 459.1,402.01 459.5,398.8 459.5,424.46 460.1,404.67 460.7,415.94 461.3,404.44 461.9,403.86 462.3,411.41 462.7,412.14 463.1,424.26 463.5,426.7 463.5,425.23 464.23,418.23 464.97,424.8 465.7,424.65 466.13,415.57 466.57,401.89 467,395 467,396.71 467.63,399.75 468.27,398.76 468.9,399.92 469.53,398.48 470.17,398.23 470.8,398.24 471.5,380 472,369.12 472.5,356.2 472.9,363.8 473.3,357.53 473.93,357.46 474.55,368.07 475.18,370.04 475.8,368.39 475.8,389.21 476.44,387.68 477.08,388.55 477.72,388.17 478.36,382.47 479,389.63 479,388.14 479.64,384.78 480.28,385.57 480.92,375.48 481.56,382.93 482.2,387.51 482.2,356.77 482.75,357.68 483.3,363.53 483.85,357.45 484.4,363.07 484.95,357.29 485.5,357.49 486.05,359.8 486.6,366.56 487.15,359.03 487.7,358.58 488.25,364.29 488.8,369.97 489.4,378.49 490,384.9 490.43,382.44 490.87,371.24 491.3,358.06 491.93,368.25 492.57,376.73 493.2,362.4 493.63,374.48 494.07,382.7 494.5,393.8 494.93,385.92 495.37,374.7 495.8,374.99 496.39,357.21 496.97,373.79 497.56,365.07 498.14,376.54 498.73,371.95 499.31,358.12 499.9,368.43 500.49,375.18 501.07,374.8 501.66,373.82 502.24,362.6 502.83,358.04 503.41,360.01 504,370.83 504,364.65 504.57,358.25 505.15,362.26 505.72,363.68 506.29,363.53 506.86,356.37 507.44,357.73 508.01,356.67 508.58,362.29 509.15,364.38 509.73,363.15 510.3,357.45 510.3,387.47 510.87,373.26 511.44,359.52 512.01,383.54 512.58,370.45 513.15,386.09 513.72,383.91 514.29,356.48 514.86,379.39 515.43,384.89 516,383.2 516,356.41 516.58,357.91 517.17,358.4 517.75,357.61 518.33,357.47 518.92,357.85 519.5,367.88 520.08,356.47 520.67,359.1 521.25,357.77 521.83,371.94 522.42,360.19 523,368.98 523.5,382.9 524,388.47 524.5,401.4 524.96,397.57 525.42,385.46 525.88,381.9 526.34,372.81 526.8,356.67 527.35,365.48 527.9,376.15 528.45,373.22 529,373.92 529.55,363.11 530.1,356.64 530.65,358.87 531.2,360.54 531.75,376.82 532.3,374.56 532.85,363.36 533.4,375.15 533.95,362.29 534.5,376.6 535.05,358.13 535.6,372.13 536,356.2 536.5,370.73 537,376.86 537.5,390 538.2,439.3 539,410 539.43,402.88 539.87,388.19 540.3,381 540.8,391.6 541.3,400 541.7,413.95 542.1,425.78 542.5,440 543.2,432.94 543.84,437.38 544.48,439.04 545.12,432.99 545.76,440.32 546.4,460.02 546.4,448.13 547.02,483.82 547.65,466.32 548.27,446.55 548.9,451.09 548.9,478.17 549.45,452.45 550,441.35 550.55,462.85 551.1,440.49 551.65,463.3 552.2,479.11 552.2,491.24 552.79,469.81 553.37,473.36 553.96,470.77 554.54,471.16 555.13,471.87 555.71,472.42 556.3,489.87 556.7,501.01 557.1,509.45 557.5,520 557.95,529.96 558.4,534.33 558.85,550.17 559.3,555 559.85,538.02 560.4,520 560.4,516.49 561.02,469.55 561.65,516.62 562.27,502.6 562.9,459.79 562.9,449.57 563.45,458.96 564,453.49 564.55,457.79 565.1,453.8 565.65,479.18 566.2,483.64 566.2,451.96 566.83,453.18 567.47,469.26 568.1,454.91 568.73,452.09 569.37,455.64 570,452.6 570.8,401.4 571.2,411.99 571.6,417.49 572,428 572,474.49 572.64,468.01 573.28,474 573.92,467.94 574.56,434.72 575.2,433.94 575.2,483.53 575.79,463.93 576.37,450.45 576.96,478.86 577.54,481.84 578.13,475.96 578.71,448.41 579.3,451.6 579.3,472.74 579.85,509.28 580.4,503.55 580.95,483.03 581.5,476.01 582.05,496.7 582.6,471.88 583.02,493.31 583.45,507.67 583.88,533.4 584.3,550 584.7,539.63 585.1,522.04 585.5,514.25 585.9,523.9 586.45,503.77 587,520.74 587.55,517.6 588.1,471.13 588.65,483.34 589.2,517.52 589.2,454.9 589.83,461.79 590.47,459.2 591.1,473 591.73,455.58 592.37,475.16 593,457.18 593.5,446.22 594,428 594.1,437.03 594.7,463.76 595.3,440.53 595.9,440.7 596.5,441.61 597.1,444.14 597.7,482.81 598.3,475.15 598.3,441.05 598.85,439.44 599.4,439.5 599.95,434.15 600.5,430.71 600.95,414.01 601.4,391.2 601.9,413.92 602.4,453.3 602.97,449.7 603.54,430.55 604.11,455.34 604.68,446.17 605.25,412.79 605.82,436.41 606.39,410.38 606.96,455.13 607.53,424.98 608.1,407.13 608.1,415.44 608.73,418.43 609.37,420.07 610,444.29 610.63,451.4 611.27,417.23 611.9,451.89 611.9,400.41 612.47,415.32 613.04,427.85 613.61,424.13 614.18,428.6 614.75,425.5 615.32,426.61 615.89,409.04 616.46,429.87 617.03,426.13 617.6,401.53 618.08,414.45 618.55,423.29 619.02,439.52 619.5,450 620.05,461.3 620.6,465 621.05,454.86 621.5,440 622,421.11 622.5,398.8 623,405.07 623.5,403.47 624,410 624.4,414.83 624.8,416.45 625.2,422.33 625.6,421.77 626,428 626.5,421.19 627,405.84 627.5,400 628,379.25 628.5,356.2 629.05,363.88 629.6,358.09 630.18,361.33 630.76,359.27 631.35,375.34 631.93,365.07 632.51,378.34 633.09,362.24 633.67,376.91 634.25,363.91 634.84,357.99 635.42,359.81 636,360.06 636,356.75 636.59,363.24 637.17,370.63 637.76,367.93 638.35,369.45 638.94,356.22 639.53,362.87 640.11,357.31 640.7,357.47 641.5,378.6 642,395.29 642.5,402.44 643,420 643.4,431.66 643.8,436.06 644.2,452.29 644.6,457.8 645,470 645.4,453.94 645.8,429.98 646.2,413.91 646.6,391.2 647.07,414.16 647.53,430.05 648,452 648.5,478.18 649,495.55 649.5,520 649.9,553.66 650.3,580.66 650.7,614.5 651.3,570 651.9,608 652.6,545 652.6,490 652.6,526.96 652.62,484.45 653.18,543.19 653.74,549.2 654.3,546.81 654.86,541.88 655.42,542.13 655.98,544.26 656.54,550.84 657.1,520.17 657.1,499.3 657.76,528.34 658.42,495.19 659.08,503.65 659.74,497.81 660.4,538.72 660.4,436.44 660.96,485.04 661.52,442.31 662.09,471.26 662.65,434.43 663.21,440.12 663.77,491.46 664.34,443.35 664.9,440.18 665.33,439.44 665.75,429.72 666.17,429.6 666.6,424.2 666.6,505.68 667.23,481.34 667.87,442.6 668.5,451.57 669.13,504.61 669.77,493.22 670.4,453.92 670.4,450.15 670.95,469.72 671.5,448.86 672.05,454.51 672.6,454.14 673.15,451.77 673.7,453.84 674.25,454.82 674.8,450.47 675.35,451.3 675.9,451.82 676.45,452.59 677,479.99 677.5,491.2 678,493 678.5,504 679,491.16 679.5,468.28 680,466.89 680.57,465.5 681.14,440.02 681.71,446.69 682.29,441.44 682.86,458.36 683.43,441.25 684,467.56 684.47,446 684.93,417.58 685.4,395 685.8,389.12 686.2,372.55 686.6,368.04 687,356.2 687.4,363.55 687.8,364.85 688.2,359.43 688.82,385.61 689.44,389.35 690.06,385.32 690.68,366.12 691.3,392.14 691.3,358.74 691.94,379.57 692.58,362.24 693.22,376.62 693.86,359.05 694.5,379.53 694.5,392.34 695.13,390.04 695.77,373.1 696.4,357.05 697.03,365.22 697.67,384.64 698.3,363.66 698.3,370.35 698.87,358.68 699.44,358.93 700.01,357.69 700.58,368.39 701.15,368.5 701.72,358.55 702.29,370.17 702.86,368.37 703.43,356.91 704,365.33 704,376.34 704.63,362.63 705.27,357.32 705.9,366.3 705.9,370.78 706.52,362.32 707.15,369.51 707.77,361.28 708.4,369.49 708.87,380.85 709.33,384.65 709.8,393.8 710.2,386.32 710.6,371.96 711,356.8 711.6,357.8 712.2,370.99 712.8,361.03 713.4,368.34 714,369.2 714.6,357.78 715.2,357.9 715.8,358.07 716.4,358.12 717,363.71 717.5,391.8 718,412.8 718.5,409.5 719,394.61 719.6,410.28 720.2,394 720.8,394.85 721.4,408.2 722,399.64 722.43,405.95 722.87,407.34 723.3,416.19 723.73,416.58 724.17,425.99 724.6,426.7 725.3,399.7 725.92,401.8 726.53,400.96 727.15,410.31 727.77,403.07 728.38,398.95 729,415.42 729,411.4 729.64,390.85 730.28,407.17 730.92,394 731.56,408.9 732.2,397.04 732.2,376.7 732.84,378.15 733.48,378.89 734.12,379.12 734.76,387.57 735.4,376.38 735.4,371.18 736.02,386.39 736.65,371.99 737.27,382.59 737.9,373.25 737.9,392.03 738.53,386.07 739.17,379.51 739.8,381.42 740.43,380.22 741.07,387.12 741.7,380.37 741.7,411.48 742.27,400 742.83,390.18 743.4,401.47 743.97,392.59 744.53,393.72 745.1,407.86 745.67,398.93 746.23,409.57 746.8,390.33 747.3,385.92 747.8,373.2 748.3,365.9 748.7,378.78 749.1,385 749.5,400 750.3,430.5 750.72,418.53 751.15,402.11 751.58,394 752,379.8 752.55,393.83 753.1,400 753.55,415.56 754,430 754.4,444.47 754.8,450.61 755.2,464.44 755.6,474.6 755.6,447.68 756.17,449.36 756.75,449.55 757.33,435.92 757.9,423.57 757.9,424.44 758.53,430.35 759.17,427.94 759.8,457.31 760.43,430.4 761.07,425.64 761.7,429.25 761.7,478.44 762.28,448.86 762.85,471.98 763.42,481.38 764,480.03 764,489.14 764.63,489.48 765.27,488.72 765.9,490.16 766.53,466.98 767.17,485.97 767.8,458.82 768.5,447.3 769,459.57 769.5,470 769.9,480 770.3,480.64 770.7,494.53 771.1,496.38 771.5,505 772,498.13 772.66,490.13 773.32,487.9 773.98,498.4 774.64,491.25 775.3,488.04 775.3,526.2 775.55,507.45 776.1,479.96 776.7,481.1 777.3,489.11 777.9,478.15 778.5,479.7 779.1,489.42 779.9,459.5 780.3,472.03 780.7,471.4 781.3,472.8 781.9,473.58 782.5,483.48 783.1,488 783.7,479.87 784.4,468.6 784.8,475.87 785.2,478.32 785.6,487.22 786,490 786.4,499.71 786.8,501.38 787.2,511.1 787.6,511.69 788,521 788.5,493.58 789,471.36 789.6,458.19 790.2,457.11 790.8,471.1 791.4,470.49 792,469.74 792.43,460.01 792.87,440.11 793.3,430.5 793.72,424.21 794.15,414.24 794.58,413.43 795,402.6 795.8,412.07 796.43,414.1 797.07,411.91 797.7,419.28 798.33,410.53 798.97,419.54 799.6,426.8 800.07,410.92 800.53,386.27 801,371 801.4,378.93 801.8,376.07 802.2,393.59 802.82,391.35 803.44,373.27 804.06,391.25 804.68,380.41 805.3,372.77 805.3,384.97 805.92,377.93 806.53,383.34 807.15,378.19 807.77,372.45 808.38,383.33 809,382.9 809,365.25 809.57,391.07 810.14,365.09 810.71,371.82 811.29,394.05 811.86,394.05 812.43,393.2 813,365.9 813,356.45 813.56,363.16 814.13,369.43 814.69,369.89 815.25,363.39 815.82,370.94 816.38,368.26 816.95,356.28 817.51,358.45 818.07,357.47 818.64,367.58 819.2,358.82 819.63,381.52 820.07,396.19 820.5,420 821.1,438 821.55,430.74 822,420 822.4,376.88 823.03,383.7 823.66,407.91 824.29,390.05 824.91,414.23 825.54,380.73 826.17,412.34 826.8,391.53 827.25,387.59 827.7,378.89 828.15,375.8 828.6,365.55 829.05,363 829.5,356.2 829.98,365.85 830.46,367.74 830.94,380.5 831.42,383.77 831.9,381.03 832.53,396.68 833.17,406.56 833.8,403.45 834.43,406.09 835.07,386.31 835.7,408.23 836.13,414.32 836.57,415.19 837,421 837.4,414.31 837.8,399.56 838.2,402.13 838.83,390.34 839.47,402.04 840.1,392.75 840.73,387.31 841.37,388.98 842,395.39 842,412.8 842.64,408.03 843.28,407.42 843.92,407.78 844.56,408.77 845.2,411.46 845.2,357.21 845.84,363.22 846.48,376.89 847.12,356.34 847.76,384.52 848.4,385.38 848.4,376.77 849.03,360.41 849.66,370.36 850.29,358 850.91,361.07 851.54,370.27 852.17,376.2 852.8,374.64 852.8,356.96 853.44,357.57 854.08,357.26 854.72,357.66 855.36,357.15 856,357.78 856,375.51 856.55,359.88 857.1,377.12 857.65,359.96 858.2,359.61 858.75,369.03 859.3,357.6 859.85,371.65 860.4,357.28 860.95,358.64 861.5,357.79 862.05,367.15 862.6,375.26 863.07,380.5 863.53,378.37 864,381 864.55,372.84 865.1,369.78 865.73,363.43 866.37,356.45 867,357.76 867.43,373.28 867.87,377.97 868.3,393.8 868.73,386.35 869.17,376.3 869.6,357.72 870.22,367.68 870.84,358.03 871.46,360.3 872.08,358.8 872.7,358.86 872.7,377.15 873.34,374.07 873.98,372.71 874.62,356.87 875.26,367.08 875.9,357.5 876.33,368.95 876.77,374.61 877.2,386 877.65,383.7 878.1,374.85 878.55,373.68 879,357.96 879.56,358.51 880.12,364.64 880.69,373.21 881.25,371.44 881.81,362.19 882.38,372.33 882.94,369.68 883.5,371.25 883.98,381.21 884.45,387.33 884.92,398.94 885.4,406.4 885.8,394.86 886.2,379.24 886.6,356.51 887.23,360.08 887.87,371.06 888.5,357.08 889,390.98 889.5,420 889.9,429.38 890.3,431.22 890.7,443.09 891.1,449 891.57,441.12 892.03,428.41 892.5,420 893,356.8 893.63,370.87 894.27,356.96 894.9,362.73 895.53,382.72 896.17,378.29 896.8,379.66 897.2,386.31 897.6,386.31 898,392.5 898.43,384.52 898.87,371.03 899.3,357.07 899.85,364.2 900.4,365.61 900.95,361.59 901.5,367.17 902.05,359.02 902.6,357.92 903.15,357.42 903.7,361.68 903.7,376.93 904.26,376.5 904.83,376.96 905.39,376.7 905.95,376.29 906.51,374.65 907.08,359.9 907.64,364.44 908.2,371.4 908.2,357.33 908.77,365.17 909.35,366.2 909.92,360.22 910.49,356.48 911.06,357.76 911.64,358.18 912.21,357.5 912.78,363.95 913.35,359.16 913.93,357.47 914.5,358 915,391.49 915.5,420 916,433.01 916.5,440 917,449.89 917.5,457 918,447.02 918.5,433 918.5,432.12 919,420.88 919.5,431.39 920,420.4 920.4,444.94 920.8,458.78 921.2,482.3 921.75,458.28 922.3,433 922.3,432.9 922.67,422.99 923.03,430.53 923.4,420.35 923.95,394.01 924.5,364.7 924.97,367.25 925.43,364.35 925.9,382.92 926.53,377.8 927.17,360.55 927.8,359.71 927.8,369.04 928.42,374.69 929.05,368.66 929.67,372.45 930.3,370.26" stroke="#ffa500" stroke-width="2.083" fill="none" stroke-linejoin="round" stroke-linecap="square" clip-path="url(#c2)"/><path d="M92.95 435.1H969.95" stroke="#0000ff" stroke-width="2.083" fill="none"/><path d="M92.95 415.8H969.95" stroke="#ff0000" stroke-width="2.083" fill="none"/><path d="M92.95 515.3H969.95" stroke="#ff00ff" stroke-width="2.083" fill="none"/><path d="M92.95 541H969.95" stroke="#32cd32" stroke-width="2.083" fill="none"/><path d="M92.95 557.9H969.95" stroke="#1e90ff" stroke-width="2.083" fill="none"/><path d="M92.95 580.4H969.95" stroke="#6a5acd" stroke-width="2.083" fill="none"/><path d="M92.95 616.9H969.95" stroke="#a9a9a9" stroke-width="2.083" fill="none"/><rect x="93.5" y="356.5" width="877.0" height="400.0" fill="none" stroke="#000" stroke-width="1.111"/><path d="M104.5 756.5v4.86M211.5 756.5v4.86M318.5 756.5v4.86M425.5 756.5v4.86M532.5 756.5v4.86M639.5 756.5v4.86M747.5 756.5v4.86M854.5 756.5v4.86M961.5 756.5v4.86M93.5 356.5h-4.86M93.5 406.5h-4.86M93.5 456.5h-4.86M93.5 506.5h-4.86M93.5 556.5h-4.86M93.5 606.5h-4.86M93.5 656.5h-4.86M93.5 706.5h-4.86M93.5 756.5h-4.86" stroke="#000" stroke-width="1.111" fill="none"/><rect x="622.5" y="599.5" width="341" height="149.9" rx="2.78" ry="2.78" fill="#fff" fill-opacity="0.8" stroke="#cccccc" stroke-opacity="0.8" stroke-width="1.389"/><path d="M627.95 610.17H655.72" stroke="#0000ff" stroke-width="2.083" stroke-linecap="square" fill="none"/><path d="M627.95 631.12H655.72" stroke="#ff0000" stroke-width="2.083" stroke-linecap="square" fill="none"/><path d="M627.95 652.06H655.72" stroke="#ff00ff" stroke-width="2.083" stroke-linecap="square" fill="none"/><path d="M627.95 673.01H655.72" stroke="#32cd32" stroke-width="2.083" stroke-linecap="square" fill="none"/><path d="M627.95 693.95H655.72" stroke="#1e90ff" stroke-width="2.083" stroke-linecap="square" fill="none"/><path d="M627.95 714.89H655.72" stroke="#6a5acd" stroke-width="2.083" stroke-linecap="square" fill="none"/><path d="M627.95 735.84H655.72" stroke="#a9a9a9" stroke-width="2.083" stroke-linecap="square" fill="none"/><text x="348.79" y="22.00" font-size="17.00" textLength="364.71" lengthAdjust="spacingAndGlyphs">Historical Compounded Cumulative Returns</text><text x="74.89" y="318.00" font-size="14.70" textLength="57.87" lengthAdjust="spacingAndGlyphs">2010-01</text><text x="181.91" y="318.00" font-size="14.70" textLength="57.72" lengthAdjust="spacingAndGlyphs">2012-01</text><text x="289.16" y="318.00" font-size="14.70" textLength="56.86" lengthAdjust="spacingAndGlyphs">2014-01</text><text x="395.88" y="318.00" font-size="14.70" textLength="58.23" lengthAdjust="spacingAndGlyphs">2016-01</text><text x="502.91" y="318.00" font-size="14.70" textLength="57.71" lengthAdjust="spacingAndGlyphs">2018-01</text><text x="609.89" y="318.00" font-size="14.70" textLength="57.66" lengthAdjust="spacingAndGlyphs">2020-01</text><text x="717.67" y="318.00" font-size="14.70" textLength="57.66" lengthAdjust="spacingAndGlyphs">2022-01</text><text x="824.89" y="318.00" font-size="14.70" textLength="57.87" lengthAdjust="spacingAndGlyphs">2024-01</text><text x="931.90" y="318.00" font-size="14.70" textLength="57.68" lengthAdjust="spacingAndGlyphs">2026-01</text><text x="39.81" y="302.00" font-size="14.70" textLength="42.72" lengthAdjust="spacingAndGlyphs">0.00%</text><text x="21.79" y="269.00" font-size="14.70" textLength="60.52" lengthAdjust="spacingAndGlyphs">100.00%</text><text x="21.41" y="236.00" font-size="14.70" textLength="61.66" lengthAdjust="spacingAndGlyphs">200.00%</text><text x="21.67" y="203.00" font-size="14.70" textLength="60.34" lengthAdjust="spacingAndGlyphs">300.00%</text><text x="22.55" y="169.00" font-size="14.70" textLength="60.53" lengthAdjust="spacingAndGlyphs">400.00%</text><text x="21.39" y="136.00" font-size="14.70" textLength="60.62" lengthAdjust="spacingAndGlyphs">500.00%</text><text x="21.29" y="103.00" font-size="14.70" textLength="61.99" lengthAdjust="spacingAndGlyphs">600.00%</text><text x="21.43" y="69.00" font-size="14.70" textLength="60.56" lengthAdjust="spacingAndGlyphs">700.00%</text><text x="21.49" y="36.00" font-size="14.70" textLength="61.63" lengthAdjust="spacingAndGlyphs">800.00%</text><text x="376.96" y="348.00" font-size="17.00" textLength="308.60" lengthAdjust="spacingAndGlyphs">Historical Uncompounded Drawdown</text><text x="74.89" y="777.00" font-size="14.70" textLength="57.87" lengthAdjust="spacingAndGlyphs">2010-01</text><text x="181.91" y="777.00" font-size="14.70" textLength="57.72" lengthAdjust="spacingAndGlyphs">2012-01</text><text x="289.16" y="777.00" font-size="14.70" textLength="56.86" lengthAdjust="spacingAndGlyphs">2014-01</text><text x="395.88" y="777.00" font-size="14.70" textLength="58.23" lengthAdjust="spacingAndGlyphs">2016-01</text><text x="502.91" y="777.00" font-size="14.70" textLength="57.71" lengthAdjust="spacingAndGlyphs">2018-01</text><text x="609.89" y="777.00" font-size="14.70" textLength="57.66" lengthAdjust="spacingAndGlyphs">2020-01</text><text x="717.67" y="777.00" font-size="14.70" textLength="57.66" lengthAdjust="spacingAndGlyphs">2022-01</text><text x="824.89" y="777.00" font-size="14.70" textLength="57.87" lengthAdjust="spacingAndGlyphs">2024-01</text><text x="931.90" y="777.00" font-size="14.70" textLength="57.68" lengthAdjust="spacingAndGlyphs">2026-01</text><text x="25.12" y="762.00" font-size="14.70" textLength="57.22" lengthAdjust="spacingAndGlyphs">-40.00%</text><text x="25.12" y="712.00" font-size="14.70" textLength="57.22" lengthAdjust="spacingAndGlyphs">-35.00%</text><text x="25.12" y="662.00" font-size="14.70" textLength="57.22" lengthAdjust="spacingAndGlyphs">-30.00%</text><text x="25.12" y="612.00" font-size="14.70" textLength="57.22" lengthAdjust="spacingAndGlyphs">-25.00%</text><text x="25.12" y="562.00" font-size="14.70" textLength="57.22" lengthAdjust="spacingAndGlyphs">-20.00%</text><text x="25.12" y="512.00" font-size="14.70" textLength="57.20" lengthAdjust="spacingAndGlyphs">-15.00%</text><text x="25.12" y="462.00" font-size="14.70" textLength="57.20" lengthAdjust="spacingAndGlyphs">-10.00%</text><text x="34.42" y="412.00" font-size="14.70" textLength="48.03" lengthAdjust="spacingAndGlyphs">-5.00%</text><text x="39.81" y="362.00" font-size="14.70" textLength="42.72" lengthAdjust="spacingAndGlyphs">0.00%</text><text x="666.58" y="615.00" font-size="14.70" textLength="136.83" lengthAdjust="spacingAndGlyphs">Ulcer Index: -7.89%</text><text x="666.63" y="636.00" font-size="14.70" textLength="194.30" lengthAdjust="spacingAndGlyphs">Average Drawdown: -5.96%</text><text x="666.69" y="657.00" font-size="14.70" textLength="235.59" lengthAdjust="spacingAndGlyphs">95.00% Confidence DaR: -15.91%</text><text x="666.78" y="678.00" font-size="14.70" textLength="245.55" lengthAdjust="spacingAndGlyphs">95.00% Confidence CDaR: -18.48%</text><text x="666.78" y="699.00" font-size="14.70" textLength="244.31" lengthAdjust="spacingAndGlyphs">95.00% Confidence EDaR: -20.17%</text><text x="666.74" y="720.00" font-size="14.70" textLength="290.52" lengthAdjust="spacingAndGlyphs">95.00% Confidence RLDaR (0.3): -22.42%</text><text x="666.75" y="741.00" font-size="14.70" textLength="214.28" lengthAdjust="spacingAndGlyphs">Maximum Drawdown: -26.07%</text></svg></body></html>
